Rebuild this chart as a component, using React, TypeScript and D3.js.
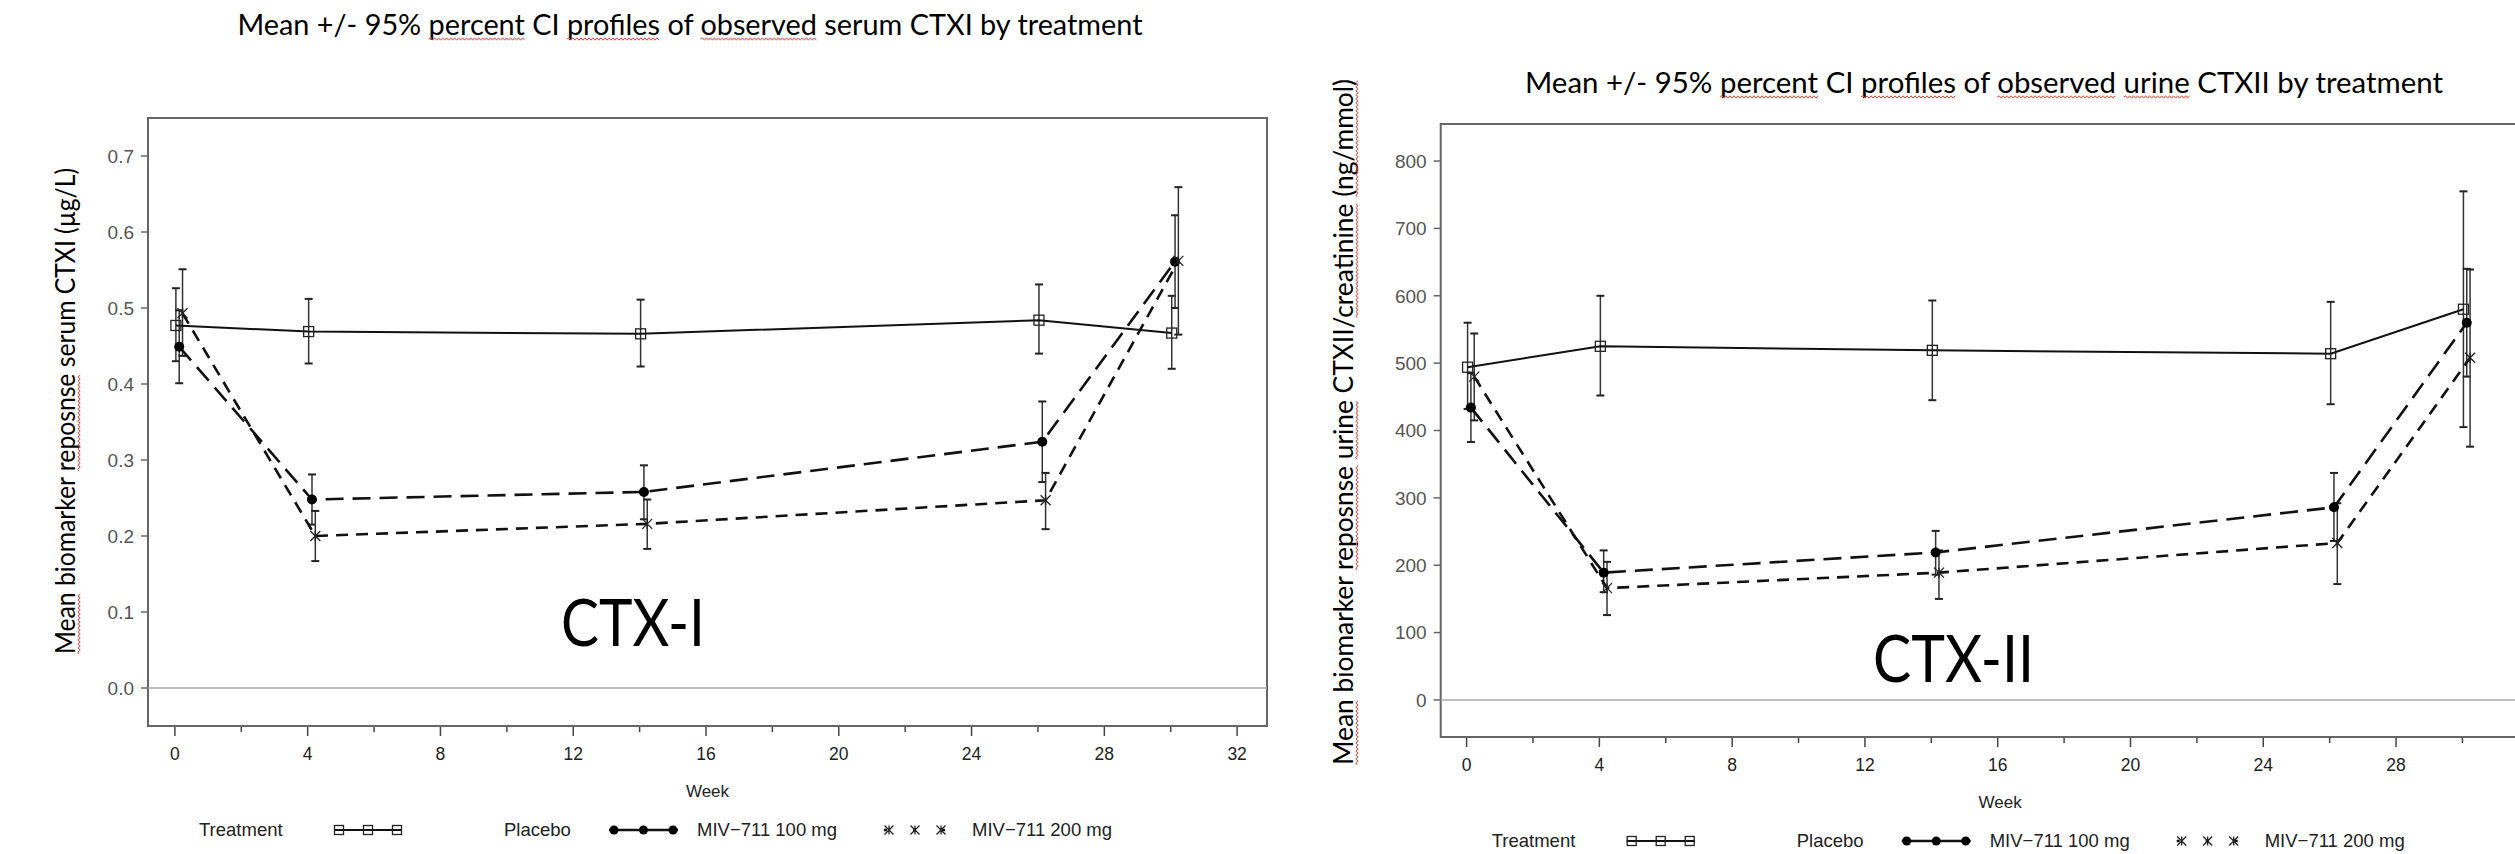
import React, { useEffect, useRef } from 'react';
import * as d3 from 'd3';

// weeks of the visits, and the small horizontal dodge SAS gives each group
const weeks = [0, 4, 14, 26, 30];
const treatments = ['Placebo', 'MIV−711 100 mg', 'MIV−711 200 mg'];
const weekDodge = [0.03, 0.13, 0.23];

// serum CTX-I (µg/L): rows = placebo, 100 mg, 200 mg
const ctxiMean = [
  [0.477, 0.469, 0.466, 0.484, 0.467],
  [0.449, 0.248, 0.258, 0.324, 0.561],
  [0.493, 0.200, 0.216, 0.247, 0.562],
];
const ctxiLower = [
  [0.430, 0.427, 0.423, 0.440, 0.420],
  [0.401, 0.215, 0.222, 0.271, 0.500],
  [0.437, 0.167, 0.183, 0.209, 0.465],
];
const ctxiUpper = [
  [0.526, 0.512, 0.511, 0.531, 0.516],
  [0.497, 0.281, 0.293, 0.377, 0.622],
  [0.551, 0.233, 0.248, 0.283, 0.659],
];

// urine CTX-II/creatinine (ng/mmol)
const ctxiiMean = [
  [494, 525, 519, 514, 580],
  [434, 189, 219, 286, 560],
  [480, 166, 189, 233, 508],
];
const ctxiiLower = [
  [432, 452, 445, 439, 405],
  [383, 160, 186, 236, 480],
  [415, 126, 150, 172, 376],
];
const ctxiiUpper = [
  [560, 600, 593, 591, 755],
  [485, 222, 251, 337, 640],
  [544, 205, 222, 292, 639],
];

const ctxiYTicks = [0, 0.1, 0.2, 0.3, 0.4, 0.5, 0.6, 0.7];
const ctxiiYTicks = [0, 100, 200, 300, 400, 500, 600, 700, 800];
const xMajorTicks = [0, 4, 8, 12, 16, 20, 24, 28, 32];
const xMinorTicks = [2, 6, 10, 14, 18, 22, 26, 30];

const ctxiTitle = 'Mean +/- 95% percent CI profiles of observed serum CTXI by treatment';
const ctxiiTitle = 'Mean +/- 95% percent CI profiles of observed urine CTXII by treatment';
const ctxiYLabel = 'Mean biomarker reposnse serum CTXI (µg/L)';
const ctxiiYLabel = 'Mean biomarker reposnse urine CTXII/creatinine (ng/mmol)';

const WORD_FONT = 'Lato, "Open Sans", sans-serif';
const SAS_FONT = '"Liberation Sans", Arial, sans-serif';
const PAGE_W = 2515;

const App = () => {
  const svgRef = useRef<SVGSVGElement>(null);

  useEffect(() => {
    const svg = d3.select(svgRef.current);
    svg.selectAll('*').remove();

    // red spell-check wave under a word of a text element
    const squiggle = (g: any, node: SVGTextElement, text: string, word: string) => {
      const s = text.indexOf(word);
      if (s < 0) return;
      const p0 = node.getStartPositionOfChar(s);
      const p1 = node.getEndPositionOfChar(s + word.length - 1);
      const y = p0.y + 4;
      let d = `M${p0.x},${y}`;
      let up = true;
      for (let x = p0.x + 2; x <= p1.x; x += 2) {
        d += `L${x},${y + (up ? -1.2 : 1.2)}`;
        up = !up;
      }
      g.append('path').attr('d', d).attr('fill', 'none')
        .attr('stroke', '#e8443a').attr('stroke-width', 1);
    };

    const wordText = (x: number, y: number, rot: number, text: string, size: number,
      len: number, anchor: string, marks: string[]) => {
      const g = svg.append('g').attr('transform', `translate(${x},${y}) rotate(${rot})`);
      const t = g.append('text')
        .attr('text-anchor', anchor)
        .attr('font-family', WORD_FONT)
        .attr('font-size', size)
        .attr('textLength', len)
        .attr('lengthAdjust', 'spacingAndGlyphs')
        .attr('fill', '#000')
        .text(text);
      marks.forEach(w => squiggle(g, t.node() as SVGTextElement, text, w));
    };

    const panels = [
      {
        mean: ctxiMean, lower: ctxiLower, upper: ctxiUpper, yTicks: ctxiYTicks,
        fmt: d3.format('.1f'), yDomain: [-0.05, 0.75], xDomain: [-0.81, 32.9],
        left: 148, top: 118, bottom: 726, width: 1119,
        title: ctxiTitle, titlePos: [690, 35, 905], titleMarks: ['percent', 'profiles', 'observed'],
        yLabel: ctxiYLabel, yLabelPos: [75, 411, 486], yLabelMarks: ['Mean', 'reposnse'],
        tag: 'CTX-I', tagPos: [561, 646, 144],
      },
      {
        mean: ctxiiMean, lower: ctxiiLower, upper: ctxiiUpper, yTicks: ctxiiYTicks,
        fmt: d3.format('d'), yDomain: [-55, 855], xDomain: [-0.78, 32.93],
        left: 1440.7, top: 124, bottom: 737, width: 1119,
        title: ctxiiTitle, titlePos: [1984, 93, 918], titleMarks: ['percent', 'profiles', 'observed', 'urine'],
        yLabel: ctxiiYLabel, yLabelPos: [1353, 422, 686],
        yLabelMarks: ['Mean', 'reposnse', 'urine', 'creatinine', '(ng/mmol)'],
        tag: 'CTX-II', tagPos: [1873, 682, 161],
      },
    ];

    const dash = [null, '18,9', '12,8'];
    const lineW = [2, 2.6, 2.6];

    const drawMarker = (g: any, k: number, x: number, y: number, s: number) => {
      if (k === 0) {
        g.append('rect').attr('x', x - s).attr('y', y - s)
          .attr('width', 2 * s).attr('height', 2 * s)
          .attr('fill', 'none').attr('stroke', '#222').attr('stroke-width', 1.3);
      } else if (k === 1) {
        g.append('circle').attr('cx', x).attr('cy', y).attr('r', s).attr('fill', '#000');
      } else {
        g.append('path')
          .attr('d', `M${x - s},${y - s}L${x + s},${y + s}M${x - s},${y + s}L${x + s},${y - s}M${x},${y - s}L${x},${y + s}`)
          .attr('stroke', '#222').attr('stroke-width', 1.3).attr('fill', 'none');
      }
    };

    panels.forEach(p => {
      const x = d3.scaleLinear().domain(p.xDomain).range([p.left, p.left + p.width]);
      const y = d3.scaleLinear().domain(p.yDomain).range([p.bottom, p.top]);
      const g = svg.append('g');

      // frame
      g.append('rect')
        .attr('x', p.left).attr('y', p.top)
        .attr('width', p.width).attr('height', p.bottom - p.top)
        .attr('fill', 'none').attr('stroke', '#666').attr('stroke-width', 2);

      // zero reference
      g.append('line')
        .attr('x1', p.left).attr('x2', p.left + p.width)
        .attr('y1', y(0)).attr('y2', y(0))
        .attr('stroke', '#aaa').attr('stroke-width', 1.5);

      // y axis
      p.yTicks.forEach(v => {
        g.append('line').attr('x1', p.left - 7).attr('x2', p.left)
          .attr('y1', y(v)).attr('y2', y(v)).attr('stroke', '#666').attr('stroke-width', 1.5);
        g.append('text').attr('x', p.left - 14).attr('y', y(v)).attr('dy', '0.36em')
          .attr('text-anchor', 'end').attr('font-family', SAS_FONT).attr('font-size', 19)
          .attr('fill', '#555').text(p.fmt(v));
      });

      // x axis (the right panel runs off the page, so its last tick is not shown)
      xMajorTicks.filter(v => x(v) < PAGE_W - 12).forEach(v => {
        g.append('line').attr('x1', x(v)).attr('x2', x(v))
          .attr('y1', p.bottom + 1).attr('y2', p.bottom + 10)
          .attr('stroke', '#444').attr('stroke-width', 1.5);
        g.append('text').attr('x', x(v)).attr('y', p.bottom + 34)
          .attr('text-anchor', 'middle').attr('font-family', SAS_FONT).attr('font-size', 17.5)
          .attr('fill', '#222').text(v);
      });
      xMinorTicks.forEach(v => {
        g.append('line').attr('x1', x(v)).attr('x2', x(v))
          .attr('y1', p.bottom + 1).attr('y2', p.bottom + 6)
          .attr('stroke', '#444').attr('stroke-width', 1.5);
      });
      g.append('text').attr('x', p.left + p.width / 2).attr('y', p.bottom + 71)
        .attr('text-anchor', 'middle').attr('font-family', SAS_FONT).attr('font-size', 17)
        .attr('fill', '#222').text('Week');

      // error bars
      p.mean.forEach((row, k) => {
        row.forEach((_, i) => {
          const cx = x(weeks[i] + weekDodge[k]);
          g.append('line').attr('x1', cx).attr('x2', cx)
            .attr('y1', y(p.lower[k][i])).attr('y2', y(p.upper[k][i]))
            .attr('stroke', '#333').attr('stroke-width', 1.5);
          [p.lower[k][i], p.upper[k][i]].forEach(v => {
            g.append('line').attr('x1', cx - 4).attr('x2', cx + 4)
              .attr('y1', y(v)).attr('y2', y(v))
              .attr('stroke', '#222').attr('stroke-width', 2);
          });
        });
      });

      // profile lines
      p.mean.forEach((row, k) => {
        const line = d3.line<number>()
          .x((_, i) => x(weeks[i] + weekDodge[k]))
          .y(d => y(d));
        g.append('path').attr('d', line(row))
          .attr('fill', 'none').attr('stroke', '#111')
          .attr('stroke-width', lineW[k])
          .attr('stroke-dasharray', dash[k]);
      });

      // markers
      p.mean.forEach((row, k) => {
        row.forEach((v, i) => drawMarker(g, k, x(weeks[i] + weekDodge[k]), y(v), 5));
      });

      // legend
      const ly = p.bottom + 110;
      const legendText = (lx: number, s: string) =>
        g.append('text').attr('x', lx).attr('y', ly).attr('font-family', SAS_FONT)
          .attr('font-size', 18.5).attr('fill', '#222').text(s);
      legendText(p.left + 51, 'Treatment');
      const symX = [186, 461, 736];
      const symW = [68, 69, 62];
      const labX = [356, 549, 824];
      treatments.forEach((name, k) => {
        const x0 = p.left + symX[k];
        const cy = ly - 6;
        g.append('line').attr('x1', x0).attr('x2', x0 + symW[k])
          .attr('y1', cy).attr('y2', cy)
          .attr('stroke', '#111').attr('stroke-width', k === 0 ? 2 : 2.6)
          .attr('stroke-dasharray', k === 2 ? '3,26' : null);
        [0, 0.5, 1].forEach(f => drawMarker(g, k, x0 + 5 + f * (symW[k] - 10), cy, 4.5));
        legendText(p.left + labX[k], name);
      });

      // headings
      wordText(p.titlePos[0], p.titlePos[1], 0, p.title, 29, p.titlePos[2], 'middle', p.titleMarks);
      wordText(p.yLabelPos[0], p.yLabelPos[1], -90, p.yLabel, 26, p.yLabelPos[2], 'middle', p.yLabelMarks);
      wordText(p.tagPos[0], p.tagPos[1], 0, p.tag, 66, p.tagPos[2], 'start', []);
    });
  }, []);

  return (
    <svg
      ref={svgRef}
      width={PAGE_W}
      height={854}
      style={{ position: 'absolute', left: 0, top: 0, background: '#fff' }}
    />
  );
};

export default App;
